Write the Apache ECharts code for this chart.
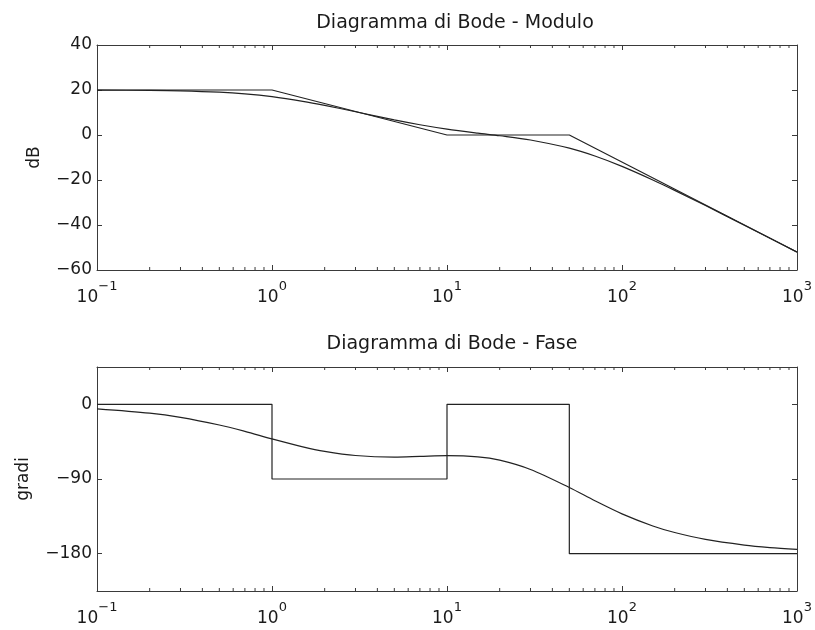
<!DOCTYPE html>
<html>
<head>
<meta charset="utf-8">
<script src="https://cdn.jsdelivr.net/npm/echarts@6/dist/echarts.min.js"></script>
<style>html,body{margin:0;padding:0;background:#fff}#chart{width:815px;height:630px}</style>
</head>
<body>
<div id="chart"></div>
<script>
// pulsazioni (rad/s)
var freq = [0.1,0.2,0.3,0.5,0.7,1,1.5,2,3,5,7,10,15,20,30,50,70,100,150,200,300,500,700,1000];
// modulo reale (dB)
var modulo = [19.96,19.83,19.63,19.04,18.29,17.03,14.97,13.17,10.34,6.73,4.57,2.63,0.83,-0.33,-2.22,-5.85,-9.34,-13.94,-19.98,-24.6,-31.36,-40.08,-45.89,-52.06];
// fase reale (gradi)
var fase = [-5.4,-10.6,-15.7,-24.9,-32.6,-41.6,-51.2,-56.7,-61.7,-63.6,-62.8,-61.9,-63.3,-67.3,-78.5,-100.2,-116.2,-132,-146.6,-154.5,-162.8,-169.6,-172.6,-174.8];
// diagrammi asintotici
var asintFreqMod = [0.1,1,10,50,1000];
var asintMod = [20,20,0,0,-52];
var asintFreqFase = [0.1,1,1,10,10,50,50,1000];
var asintFase = [0,0,-90,-90,0,0,-180,-180];
// tacche
var decadi = [0.1,1,10,100,1000];
var minorTicks = [0.2,0.3,0.4,0.5,0.6,0.7,0.8,0.9,2,3,4,5,6,7,8,9,20,30,40,50,60,70,80,90,200,300,400,500,600,700,800,900];
var ticksFase = [0,-90,-180];

function pairs(xs, ys) {
    return xs.map(function (x, i) { return [x, ys[i]]; });
}
function meno(v) {
    return String(v).replace('-', '\u2212');
}

var font = 'DejaVu Sans';
var txtCol = '#1a1a1a';
var lineCol = '#222';
var boxCol = '#3a3a3a';

function xAxisBase(grid, pos, labels) {
    return {
        type: 'log', logBase: 10, gridIndex: grid, position: pos,
        min: 0.1, max: 1000,
        axisLine: { show: true, onZero: false, lineStyle: { color: boxCol, width: 1 } },
        axisTick: { show: true, inside: true, length: 5, customValues: decadi, lineStyle: { color: boxCol } },
        splitLine: { show: false },
        axisLabel: {
            show: labels, customValues: decadi, margin: 10, color: txtCol,
            formatter: function (v) {
                var e = Math.round(Math.log10(v));
                return '{b|10}{s|' + meno(e) + '}';
            },
            rich: {
                b: { fontFamily: font, fontSize: 17, color: txtCol, lineHeight: 26, verticalAlign: 'bottom' },
                s: { fontFamily: font, fontSize: 13, color: txtCol, lineHeight: 26, verticalAlign: 'top' }
            }
        }
    };
}

function yAxisBase(grid, pos, labels, extra) {
    var a = {
        type: 'value', gridIndex: grid, position: pos,
        axisLine: { show: true, onZero: false, lineStyle: { color: boxCol, width: 1 } },
        axisTick: { show: true, inside: true, length: 5, lineStyle: { color: boxCol } },
        splitLine: { show: false },
        axisLabel: { show: labels, fontFamily: font, fontSize: 17, color: txtCol, margin: 5, formatter: meno },
        nameTextStyle: { fontFamily: font, fontSize: 17, color: txtCol }
    };
    for (var k in extra) a[k] = extra[k];
    return a;
}

var modY = { min: -60, max: 40, interval: 20 };
var faseY = { min: -225, max: 45 };

function tickSeries(xi, yi) {
    return {
        type: 'custom', xAxisIndex: xi, yAxisIndex: yi, silent: true, clip: false,
        data: minorTicks.map(function (f) { return [f, 0]; }),
        renderItem: function (params, api) {
            var cs = params.coordSys;
            var x = api.coord([api.value(0), 0])[0];
            var st = { stroke: boxCol, lineWidth: 1 };
            return {
                type: 'group',
                children: [
                    { type: 'line', shape: { x1: x, y1: cs.y + cs.height, x2: x, y2: cs.y + cs.height - 3 }, style: st },
                    { type: 'line', shape: { x1: x, y1: cs.y, x2: x, y2: cs.y + 3 }, style: st }
                ]
            };
        }
    };
}

var chart = echarts.init(document.getElementById('chart'));
chart.setOption({
    animation: false,
    backgroundColor: '#fff',
    title: [
        { text: 'Diagramma di Bode - Modulo', left: 450, top: 9, textAlign: 'center',
          textStyle: { fontFamily: font, fontSize: 19, fontWeight: 'normal', color: txtCol } },
        { text: 'Diagramma di Bode - Fase', left: 447, top: 330, textAlign: 'center',
          textStyle: { fontFamily: font, fontSize: 19, fontWeight: 'normal', color: txtCol } }
    ],
    grid: [
        { left: 97, top: 45, width: 700, height: 225 },
        { left: 97, top: 367, width: 700, height: 224 }
    ],
    xAxis: [
        xAxisBase(0, 'bottom', true),
        xAxisBase(0, 'top', false),
        xAxisBase(1, 'bottom', true),
        xAxisBase(1, 'top', false)
    ],
    yAxis: [
        yAxisBase(0, 'left', true, Object.assign({ name: 'dB', nameLocation: 'middle', nameGap: 54 }, modY)),
        yAxisBase(0, 'right', false, modY),
        yAxisBase(1, 'left', true, Object.assign({ name: 'gradi', nameLocation: 'middle', nameGap: 65,
            axisTick: { show: true, inside: true, length: 5, customValues: ticksFase, lineStyle: { color: boxCol } },
            axisLabel: { show: true, customValues: ticksFase, fontFamily: font, fontSize: 17, color: txtCol, margin: 5, formatter: meno } }, faseY)),
        yAxisBase(1, 'right', false, Object.assign({
            axisTick: { show: true, inside: true, length: 5, customValues: ticksFase, lineStyle: { color: boxCol } } }, faseY))
    ],
    series: [
        { type: 'line', xAxisIndex: 0, yAxisIndex: 0, data: pairs(asintFreqMod, asintMod), showSymbol: false,
          lineStyle: { color: lineCol, width: 1.2 } },
        { type: 'line', xAxisIndex: 0, yAxisIndex: 0, data: pairs(freq, modulo), showSymbol: false, smooth: 0.3,
          lineStyle: { color: lineCol, width: 1.2 } },
        { type: 'line', xAxisIndex: 2, yAxisIndex: 2, data: pairs(asintFreqFase, asintFase), showSymbol: false,
          lineStyle: { color: lineCol, width: 1.2 } },
        { type: 'line', xAxisIndex: 2, yAxisIndex: 2, data: pairs(freq, fase), showSymbol: false, smooth: 0.3,
          lineStyle: { color: lineCol, width: 1.2 } },
        tickSeries(0, 0),
        tickSeries(2, 2)
    ]
});
</script>
</body>
</html>
